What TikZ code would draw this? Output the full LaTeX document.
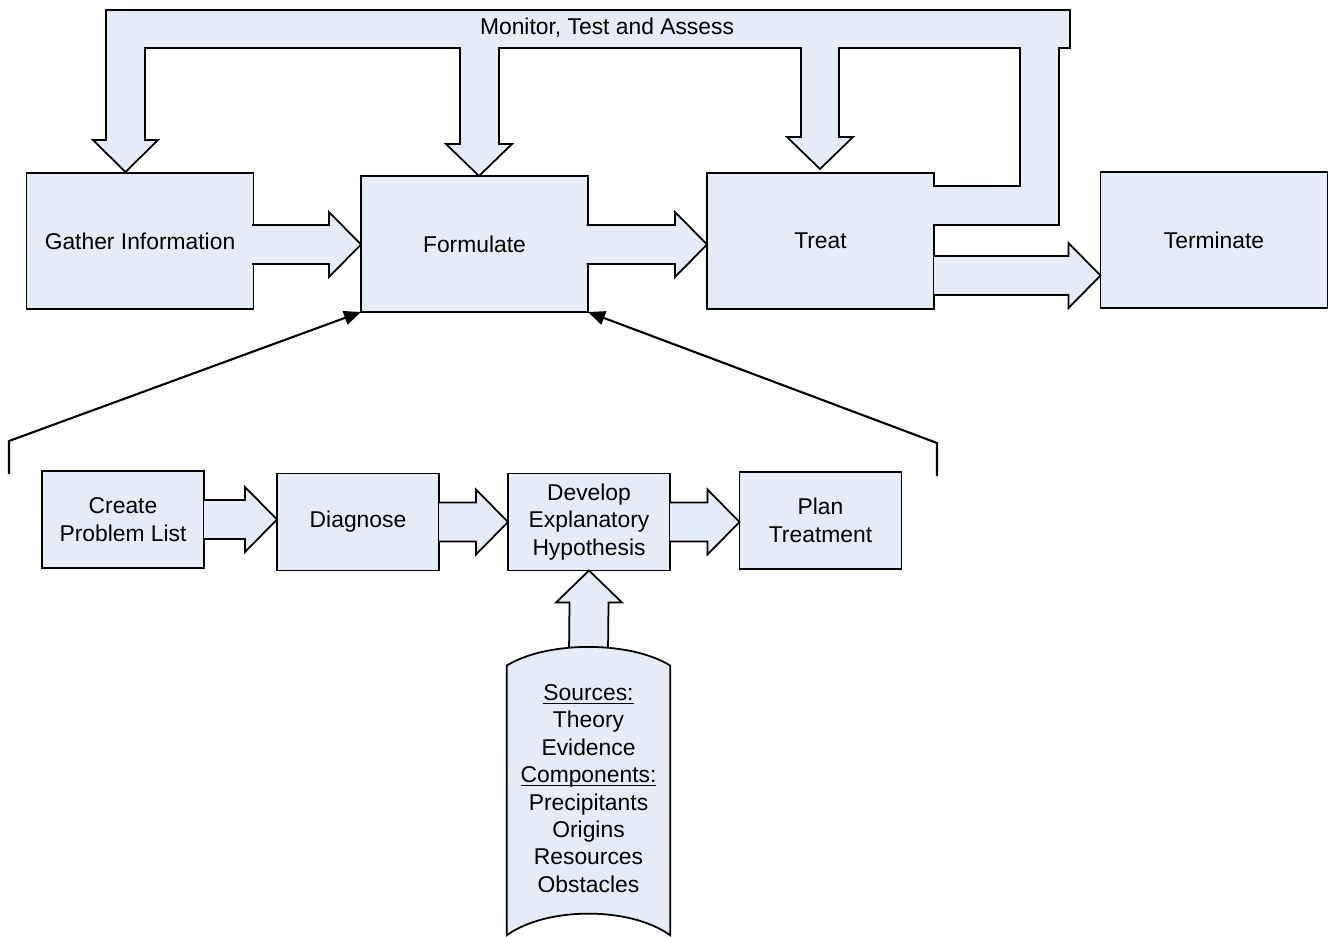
\documentclass[tikz,border=0pt]{standalone}
\usepackage{fontspec}
\setmainfont{Liberation Sans}
\usetikzlibrary{calc,arrows.meta}
\definecolor{boxfill}{RGB}{229,236,247}
\tikzset{
  lbl/.style={font=\fontsize{13}{15.6}\selectfont, align=center},
  box/.style={lbl, draw, fill=boxfill, line width=1pt, inner sep=0pt, outer sep=0pt},
  bigbox/.style={box, minimum width=45.4mm, minimum height=27.2mm},
  smallbox/.style={box, minimum width=32.4mm, minimum height=19.4mm},
  blockarrow/.style={draw, fill=boxfill, line width=1pt, line join=miter},
  pointer/.style={line width=1.2pt, -{Triangle[length=3.4mm,width=2.8mm]}},
}
% underline sitting on the baseline
\newcommand{\headword}[1]{\underline{\smash{#1}}}
% fat arrow from a point to the west side of a node
\newcommand{\fatarrow}[2]{%
  \draw[blockarrow] ($(#1)+(0,-19.5)$) -- ($(#1 -| #2.west)+(-32,-19.5)$)
    -- ($(#1 -| #2.west)+(-32,-32.5)$) -- (#1 -| #2.west)
    -- ($(#1 -| #2.west)+(-32,32.5)$) -- ($(#1 -| #2.west)+(-32,19.5)$)
    -- ($(#1)+(0,19.5)$);}
\begin{document}
\begin{tikzpicture}[x=0.2mm,y=-0.2mm]
\useasboundingbox (0,0) rectangle (1333,936);
% top row
\node[bigbox] (gather) at (140,241) {Gather Information};
\node[bigbox] (formulate) at (474.5,244) {Formulate};
\node[bigbox] (treat) at (820.5,241) {Treat};
\node[bigbox] (terminate) at (1214,240) {Terminate};
% monitoring loop
\draw[blockarrow] (933,225) -- (1059,225) -- (1059,48) -- (1070,48) -- (1070,10)
  -- (106,10) -- (106,140) -- (93,140) -- (125.5,172) -- (158,140) -- (145,140)
  -- (145,48) -- (460,48) -- (460,144) -- (446,144) -- (479,176) -- (512,144)
  -- (499,144) -- (499,48) -- (801,48) -- (801,137) -- (787,137) -- (820,169)
  -- (853,137) -- (839,137) -- (839,48) -- (1020,48) -- (1020,186) -- (933,186);
\node[lbl] (monitor) at (607,28) {Monitor, Test and Assess};
% arrows along the top row
\coordinate (gf) at ($(gather.east)+(-1.5,3.5)$);
\coordinate (ft) at ($(formulate.east)+(-1.5,0.5)$);
\coordinate (tt) at ($(treat.east)+(0,34.5)$);
\fatarrow{gf}{formulate}
\fatarrow{ft}{treat}
\fatarrow{tt}{terminate}
% formulation steps
\node[smallbox] (create) at (123,519.5) {Create\\Problem List};
\node[smallbox] (diagnose) at (358,522) {Diagnose};
\node[smallbox] (develop) at (589,522) {Develop\\Explanatory\\Hypothesis};
\node[smallbox] (plan) at (820.5,520.5) {Plan\\Treatment};
\fatarrow{create.east}{diagnose}
\fatarrow{diagnose.east}{develop}
\fatarrow{develop.east}{plan}
% bracket back to Formulate
\coordinate (lowL) at (9,474);
\coordinate (lowR) at (937,476);
\draw[pointer] (lowL) -- ++(0,-33) -- (formulate.south west);
\draw[pointer] (lowR) -- ++(0,-33) -- (formulate.south east);
% sources
\path (588.5,791) node[minimum width=32.6mm, minimum height=57.6mm, inner sep=0pt] (sources) {};
\draw[blockarrow] ($(sources.north)+(-19.5,6)$) -- ($(develop.south)+(-19.5,32)$)
  -- ($(develop.south)+(-33,32)$) -- (develop.south) -- ($(develop.south)+(33,32)$)
  -- ($(develop.south)+(19.5,32)$) -- ($(sources.north)+(19.5,6)$);
\draw[blockarrow] ($(sources.north west)+(0,19)$) .. controls +(40,-25) and +(-40,-25) .. ($(sources.north east)+(0,19)$)
  -- (sources.south east) .. controls +(-40,-29) and +(40,-29) .. (sources.south west) -- cycle;
\node[lbl] (sourcetext) at ($(sources.center)+(0,5.5)$) {\headword{Sources:}\\Theory\\Evidence\\\headword{Components:}\\Precipitants\\Origins\\Resources\\Obstacles};
\end{tikzpicture}
\end{document}
